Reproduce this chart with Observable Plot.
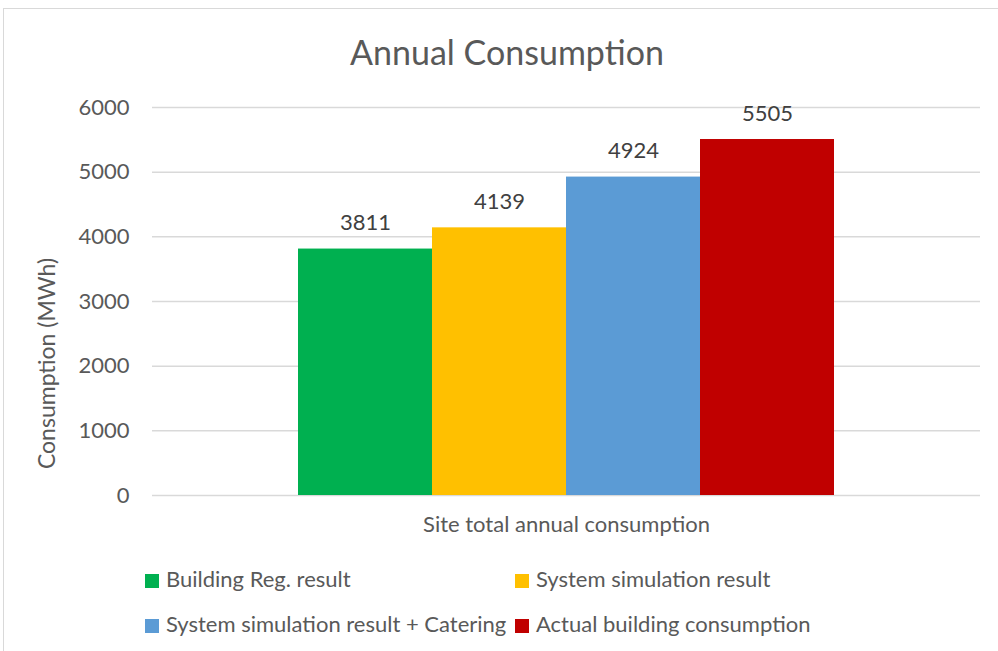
<!DOCTYPE html>
<html><head><meta charset="utf-8">
<script src="https://cdn.jsdelivr.net/npm/d3@7"></script>
<script src="https://cdn.jsdelivr.net/npm/@observablehq/plot@0.6"></script>
<style>
body{margin:0;background:#fff;font-family:Lato,"Open Sans",sans-serif;}
#wrap{position:relative;width:998px;height:651px;overflow:hidden;background:#fff;}
#frame{position:absolute;left:3px;top:8px;width:1100px;height:700px;border:1px solid #d9d9d9;box-sizing:border-box;}
#title{position:absolute;left:0;width:1014px;top:31px;text-align:center;font-size:34px;color:#595959;line-height:42px;}
#chart{position:absolute;left:0;top:80px;}
.item{position:absolute;font-size:22px;color:#595959;line-height:26px;white-space:nowrap;}
.sw{display:inline-block;width:14px;height:14px;margin-right:7px;vertical-align:-1px;}
</style></head>
<body>
<div id="wrap">
<div id="frame"></div>
<div id="title">Annual Consumption</div>
<div id="chart"></div>
<div id="legend"></div>
</div>
<script>
const titleText = "Annual Consumption";
const category = "Site total annual consumption";
const yLabel = "Consumption (MWh)";
const series = ["Building Reg. result", "System simulation result", "System simulation result + Catering", "Actual building consumption"];
const values = [3811, 4139, 4924, 5505];
const colors = ["#00B050", "#FFC000", "#5B9BD5", "#C00000"];
const yTicks = [0, 1000, 2000, 3000, 4000, 5000, 6000];

const data = series.map((s, i) => ({series: s, value: values[i]}));

const chart = Plot.plot({
  width: 998, height: 460,
  marginLeft: 152, marginRight: 18, marginTop: 27, marginBottom: 45,
  style: {fontFamily: "Lato, 'Open Sans', sans-serif", color: "#595959", background: "transparent"},
  x: {domain: series, range: [298, 834], padding: 0, axis: null},
  y: {domain: [0, 6000], axis: null},
  color: {domain: series, range: colors},
  marks: [
    Plot.ruleY(yTicks, {stroke: "#d9d9d9", strokeWidth: 1.5}),
    Plot.barY(data, {x: "series", y: "value", fill: "series"}),
    Plot.text(data, {x: "series", y: "value", text: d => String(d.value), lineAnchor: "bottom", dy: -19, fill: "#404040", fontSize: 22}),
    Plot.axisY({ticks: yTicks, tickSize: 0, tickPadding: 23, tickFormat: d => String(d), fontSize: 22, fill: "#595959", label: null}),
    Plot.text([yLabel], {frameAnchor: "left", textAnchor: "middle", text: d => d, rotate: -90, dx: -105, dy: 62, fontSize: 23, fill: "#595959"}),
    Plot.text([category], {frameAnchor: "bottom", text: d => d, dy: 36, fontSize: 22, fill: "#595959"})
  ]
});
document.getElementById("chart").appendChild(chart);

const pos = [[145, 566], [515, 566], [145, 611], [515, 611]];
const legend = document.getElementById("legend");
series.forEach((s, i) => {
  const el = document.createElement("div");
  el.className = "item";
  el.style.left = pos[i][0] + "px";
  el.style.top = pos[i][1] + "px";
  el.innerHTML = `<span class="sw" style="background:${colors[i]}"></span>${s}`;
  legend.appendChild(el);
});
</script>
</body></html>
